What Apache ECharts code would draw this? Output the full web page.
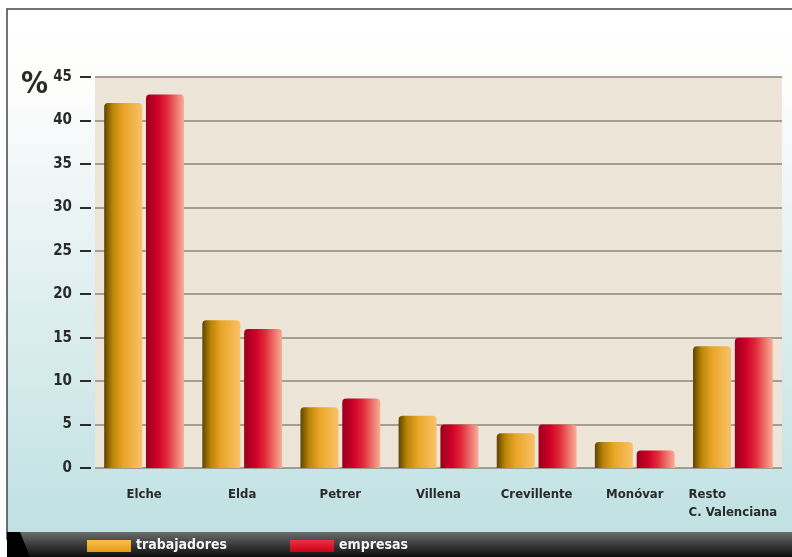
<!DOCTYPE html>
<html><head><meta charset="utf-8">
<script src="https://cdn.jsdelivr.net/npm/echarts@6/dist/echarts.min.js"></script>
<style>html,body{margin:0;padding:0;background:#fff}#c{width:792px;height:557px}</style>
</head><body><div id="c"></div>
<script>
const categories = ['Elche','Elda','Petrer','Villena','Crevillente','Monóvar','Resto\nC. Valenciana'];
const trabajadores = [42, 17, 7, 6, 4, 3, 14];
const empresas = [43, 16, 8, 5, 5, 2, 15];
const yTicks = [0,5,10,15,20,25,30,35,40,45];
const FONT = '"Liberation Sans Narrow","DejaVu Sans Condensed","Roboto Condensed",sans-serif';

const chart = echarts.init(document.getElementById('c'));
const gradT = new echarts.graphic.LinearGradient(0,0,1,0,[
  {offset:0,color:'#5e4400'},{offset:0.22,color:'#b98406'},{offset:0.5,color:'#eaa526'},{offset:1,color:'#f9c26a'}]);
const gradE = new echarts.graphic.LinearGradient(0,0,1,0,[
  {offset:0,color:'#9a001c'},{offset:0.3,color:'#cf0028'},{offset:0.55,color:'#e02a3a'},{offset:1,color:'#f9ae96'}]);

chart.setOption({
  animation:false,
  graphic:[
    {type:'rect',z:-10,shape:{x:7,y:9,width:800,height:530},
     style:{fill:new echarts.graphic.LinearGradient(0,0,0,1,[
       {offset:0,color:'#ffffff'},{offset:0.15,color:'#fdfdfc'},{offset:0.5,color:'#e2f0f1'},{offset:1,color:'#bfe0e2'}]),
       stroke:'#444',lineWidth:1.5}},
    {type:'rect',z:-9,shape:{x:7,y:532,width:790,height:26},
     style:{fill:new echarts.graphic.LinearGradient(0,0,0,1,[
       {offset:0,color:'#6c6c6c'},{offset:0.5,color:'#3a3a3a'},{offset:1,color:'#0a0a0a'}])}},
    {type:'polygon',z:-8,shape:{points:[[7,532],[20,532],[30,557],[7,557]]},style:{fill:'#000'}},
    {type:'text',left:21,top:70,style:{text:'%',font:'bold 30px '+FONT,fill:'#2a2a2a'}},
    {type:'rect',shape:{x:87,y:540,width:44,height:12},style:{fill:new echarts.graphic.LinearGradient(0,0,0,1,[{offset:0,color:'#f9c04a'},{offset:1,color:'#e39a12'}])}},
    {type:'text',left:136,top:538,style:{text:'trabajadores',font:'bold 14px '+FONT,fill:'#f4f4f4'}},
    {type:'rect',shape:{x:290,y:540,width:44,height:12},style:{fill:new echarts.graphic.LinearGradient(0,0,0,1,[{offset:0,color:'#f03040'},{offset:1,color:'#c8001e'}])}},
    {type:'text',left:339,top:538,style:{text:'empresas',font:'bold 14px '+FONT,fill:'#f4f4f4'}}
  ],
  grid:{left:95,right:10,top:77,bottom:89,show:true,backgroundColor:'#ede5d7',borderWidth:0},
  xAxis:{type:'category',data:categories,
    axisLine:{show:false},axisTick:{show:false},
    axisLabel:{interval:0,margin:18,color:'#2a2a2a',fontFamily:FONT,fontWeight:'bold',fontSize:13,lineHeight:18,
      formatter:function(v){return v.split('\n').map(s=>'{a|'+s+'}').join('\n');},
      rich:{a:{align:'left',color:'#2a2a2a',fontFamily:FONT,fontWeight:'bold',fontSize:13,lineHeight:18}}}},
  yAxis:{type:'value',min:0,max:45,interval:5,offset:4,
    axisLine:{show:false},
    axisTick:{show:true,length:11,lineStyle:{color:'#2a2a2a',width:2}},
    axisLabel:{margin:19,color:'#2a2a2a',fontFamily:FONT,fontWeight:'bold',fontSize:15,
      formatter:function(v){return yTicks.indexOf(v)>=0?String(v):'';}},
    splitLine:{lineStyle:{color:'#8d847b',width:1.5}}},
  series:[
    {name:'trabajadores',type:'bar',data:trabajadores,barWidth:38,barGap:'10%',
     itemStyle:{color:gradT,borderRadius:[4,4,0,0]}},
    {name:'empresas',type:'bar',data:empresas,barWidth:38,barGap:'10%',
     itemStyle:{color:gradE,borderRadius:[4,4,0,0]}}
  ]
});
</script></body></html>
